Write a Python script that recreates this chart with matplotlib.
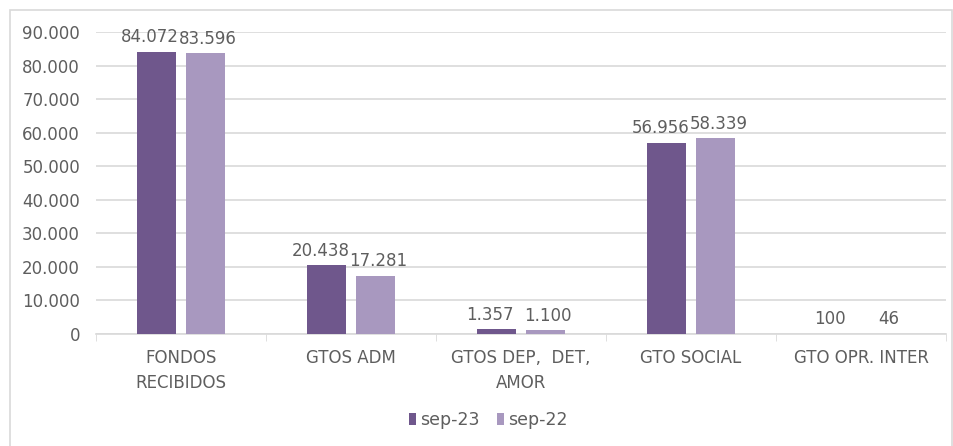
import numpy as np
import matplotlib.pyplot as plt
from matplotlib.patches import Rectangle

# datos
categorias = ['FONDOS\nRECIBIDOS', 'GTOS ADM', 'GTOS DEP,  DET,\nAMOR', 'GTO SOCIAL', 'GTO OPR. INTER']
sep23 = [84072, 20438, 1357, 56956, 100]
sep22 = [83596, 17281, 1100, 58339, 46]
series = ['sep-23', 'sep-22']

col23 = '#6F578C'
col22 = '#A898BF'
gris = '#5E5E5E'

plt.rcParams['font.family'] = ['DejaVu Sans']

fig = plt.figure(figsize=(9.54, 4.46), dpi=100)
ax = fig.add_axes([96/954, 1-334/446, 850/954, 302/446])

# marco exterior
fig.patches.append(Rectangle((10/954, -0.01), 942/954, 1-10/446+0.01, transform=fig.transFigure,
                             fill=False, edgecolor='#D9D9D9', linewidth=1.2))

x = np.arange(len(categorias))
ancho = 0.224
sep = 0.144
b1 = ax.bar(x - sep, sep23, ancho, color=col23, label=series[0], zorder=3)
b2 = ax.bar(x + sep, sep22, ancho, color=col22, label=series[1], zorder=3)

def fmt(v):
    return f'{v:,}'.replace(',', '.')

# etiquetas de datos (desplazadas un poco como en Excel)
for barras, dx in ((b1, -4.5), (b2, 2)):
    for r in barras:
        ax.annotate(fmt(int(r.get_height())), (r.get_x() + r.get_width()/2, r.get_height()),
                    xytext=(dx, 4), textcoords='offset points', ha='center', va='bottom',
                    fontsize=12, color=gris)

ax.set_xlim(-0.5, len(categorias) - 0.5)
ax.set_ylim(0, 90000)
ax.set_yticks(np.arange(0, 90001, 10000))
ax.set_yticklabels([fmt(v) for v in range(0, 90001, 10000)], fontsize=12, color=gris)
ax.set_xticks(x)
ax.set_xticklabels(categorias, fontsize=12, color=gris, linespacing=1.45)
ax.set_xticks(np.arange(-0.5, len(categorias)), minor=True)
ax.tick_params(axis='x', which='major', length=0, pad=11)
ax.tick_params(axis='x', which='minor', length=5, color='#D9D9D9')
ax.tick_params(axis='y', length=0, pad=11.5)

ax.grid(axis='y', color='#D9D9D9', linewidth=1.2, zorder=0)
for s in ['top', 'right', 'left']:
    ax.spines[s].set_visible(False)
ax.spines['bottom'].set_color('#D9D9D9')
ax.spines['bottom'].set_linewidth(1.2)

fig.legend(handles=[b1, b2], loc='center', bbox_to_anchor=(488/954, 1-420/446), ncol=2,
           frameon=False, fontsize=12.5, handlelength=0.45, handleheight=0.7, handletextpad=0.2,
           columnspacing=1.0, labelcolor=gris)

fig.savefig('out.png', dpi=100)
